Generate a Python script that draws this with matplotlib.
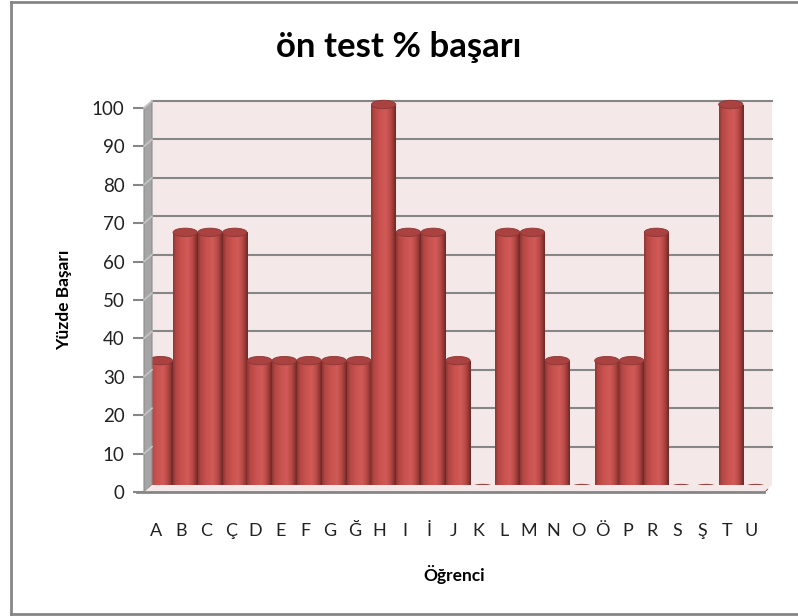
import numpy as np
import matplotlib
matplotlib.use("Agg")
import matplotlib.pyplot as plt
from matplotlib import transforms
from matplotlib.patches import Rectangle, Ellipse, Polygon
from matplotlib.colors import LinearSegmentedColormap
from matplotlib.lines import Line2D

plt.rcParams["font.family"] = ["Lato", "DejaVu Sans"]

# data
students = ["A", "B", "C", "Ç", "D", "E", "F", "G", "Ğ", "H", "I", "İ", "J",
            "K", "L", "M", "N", "O", "Ö", "P", "R", "S", "Ş", "T", "U"]
scores = [33.3, 66.7, 66.7, 66.7, 33.3, 33.3, 33.3, 33.3, 33.3, 100, 66.7, 66.7, 33.3,
          0, 66.7, 66.7, 33.3, 0, 33.3, 33.3, 66.7, 0, 0, 100, 0]
yticks = list(range(0, 101, 10))

W, H = 798, 616
fig = plt.figure(figsize=(W / 100, H / 100), dpi=100)

# front plane of the 3d box, pixel coords
x0, x1 = 144, 764
y_top, y_bot = 108, 492
ax = fig.add_axes([x0 / W, (H - y_bot) / H, (x1 - x0) / W, (y_bot - y_top) / H])
ax.set_xlim(-0.5, len(students) - 0.5)
ax.set_ylim(0, 100)
ax.patch.set_alpha(0)
for s in ax.spines.values():
    s.set_visible(False)

depth_dx, depth_dy = 8, 7  # back wall offset in px
back = ax.transData + transforms.ScaledTranslation(depth_dx / 100, depth_dy / 100, fig.dpi_scale_trans)
mid = ax.transData + transforms.ScaledTranslation(depth_dx / 200, depth_dy / 200, fig.dpi_scale_trans)

grid_c = "#868686"
wall_c = "#F4E8E8"
xmin, xmax = -0.5, len(students) - 0.5

# back wall
ax.add_patch(Rectangle((xmin, 0), xmax - xmin, 100, transform=back,
                       facecolor=wall_c, edgecolor="none", zorder=0, clip_on=False))
for v in yticks[1:]:
    ax.plot([xmin, xmax], [v, v], transform=back, color=grid_c, lw=1.5, zorder=1, clip_on=False)

# left wall and floor, built in display coords
fig.canvas.draw()
td = ax.transData
def fr(x, y):
    return td.transform((x, y))
def bk(x, y):
    p = td.transform((x, y))
    return p + np.array([depth_dx, depth_dy])

ident = transforms.IdentityTransform()
wall = Polygon([fr(xmin, 0), fr(xmin, 100), bk(xmin, 100), bk(xmin, 0)],
               closed=True, transform=ident,
               facecolor="#A5A5A5", edgecolor="#8C8C8C", lw=0.8, zorder=1)
fig.add_artist(wall)
for v in yticks[1:]:
    a, b = fr(xmin, v), bk(xmin, v)
    fig.add_artist(Line2D([a[0], b[0]], [a[1], b[1]], transform=ident,
                          color="#C4C4C4", lw=1.2, zorder=1.5))
floor = Polygon([fr(xmin, 0), fr(xmax, 0), bk(xmax, 0), bk(xmin, 0)],
                closed=True, transform=ident,
                facecolor=wall_c, edgecolor="none", zorder=1)
fig.add_artist(floor)
fa, fb = fr(xmin, 0), fr(xmax, 0)
fig.add_artist(Line2D([fa[0] - 7, fb[0]], [fa[1], fb[1]], transform=ident,
                      color=grid_c, lw=2, zorder=1.6))

# cylinders
cyl = LinearSegmentedColormap.from_list("cyl", [
    (0.0, "#8E3633"), (0.12, "#B44744"), (0.35, "#C9524F"),
    (0.6, "#D15B58"), (0.8, "#B74845"), (0.93, "#8A3431"), (1.0, "#6E2826")])
grad = np.linspace(0, 1, 64).reshape(1, -1)
bw = 0.98
eh = 2.2  # ellipse height in data units
for i, v in enumerate(scores):
    left = i - bw / 2
    if v > 0:
        body = Rectangle((left, 0), bw, v, transform=mid, facecolor="none", edgecolor="none")
        ax.add_patch(body)
        im = ax.imshow(grad, cmap=cyl, aspect="auto", extent=(left, left + bw, 0, v),
                       transform=mid, zorder=3, interpolation="bilinear")
        im.set_clip_path(body)
        ax.add_patch(Ellipse((i, 0), bw, eh, transform=mid, facecolor="#B04542",
                             edgecolor="none", zorder=2.9, clip_on=False))
        ax.add_patch(Ellipse((i, v), bw, eh, transform=mid, facecolor="#A94240",
                             edgecolor="#8E3633", lw=0.6, zorder=4, clip_on=False))
    else:
        ax.add_patch(Ellipse((i, 0), bw, eh, transform=mid, facecolor="#A53F3C",
                             edgecolor="#8E3633", lw=0.6, zorder=4, clip_on=False))
ax.set_xlim(xmin, xmax)
ax.set_ylim(0, 100)

# ticks
ax.set_yticks(yticks)
ax.set_yticklabels([str(v) for v in yticks], fontsize=13.5, color="#222222")
ax.tick_params(axis="y", length=8, width=1.5, color=grid_c, pad=6)
ax.set_xticks(range(len(students)))
ax.set_xticklabels(students, fontsize=13, color="#222222")
ax.tick_params(axis="x", length=0, pad=22)

ax.set_ylabel("Yüzde Başarı", fontsize=12.5, fontweight="bold", labelpad=14)
ax.set_xlabel("Öğrenci", fontsize=12.5, fontweight="bold", labelpad=19)

fig.text(0.5, 1 - 47 / H, "ön test % başarı", ha="center", va="center",
         fontsize=25, fontweight="bold")

# outer chart border (right edge falls outside the picture)
for xs, ys in [([11, 11], [2, 614]), ([11, 798], [2, 2]), ([11, 798], [614, 614])]:
    fig.add_artist(Line2D([x / W for x in xs], [1 - y / H for y in ys], transform=fig.transFigure,
                          color="#868686", lw=2))

fig.savefig("out.png", dpi=100)
